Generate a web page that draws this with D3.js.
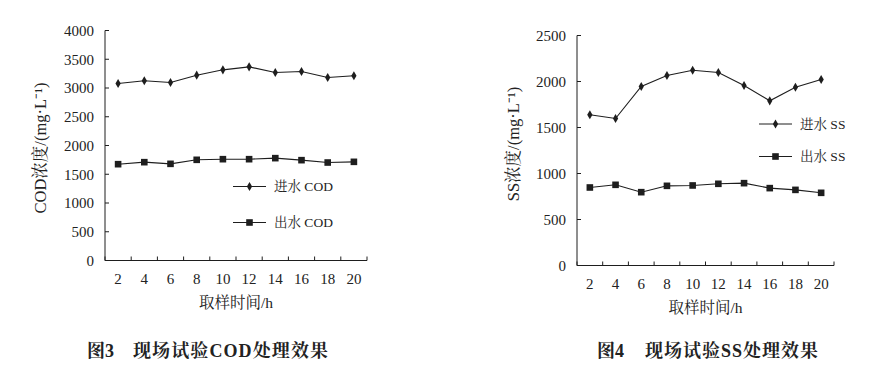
<!DOCTYPE html>
<html><head><meta charset="utf-8">
<script src="https://cdn.jsdelivr.net/npm/d3@7"></script>
<style>
body{margin:0;background:#fff;}
svg{display:block;}
</style></head>
<body>
<svg id="c" width="888" height="365"></svg>
<script>
const hours = ["2","4","6","8","10","12","14","16","18","20"];
const codIn  = [3078,3125,3096,3223,3316,3368,3270,3287,3183,3212];
const codOut = [1675,1710,1681,1751,1762,1762,1780,1745,1704,1716];
const ssIn   = [1638,1598,1946,2065,2123,2098,1957,1790,1938,2022];
const ssOut  = [848,877,797,866,870,888,895,841,822,790];
const codTicks = [0,500,1000,1500,2000,2500,3000,3500,4000];
const ssTicks  = [0,500,1000,1500,2000,2500];

const FONT = "'Times New Roman','Liberation Serif','Noto Serif CJK SC','Noto Sans CJK SC',serif";
const svg = d3.select("#c");
const ink = "#1e1e1e";
const txt = (g)=>g.append("text").attr("font-family",FONT).attr("fill","#222");

function chart(o){
  const g = svg.append("g");
  const x = d3.scaleBand().domain(hours).range([o.x0,o.x1]);
  const y = d3.scaleLinear().domain([0,o.ymax]).range([o.y0,o.y1]);
  g.append("line").attr("x1",o.x0).attr("x2",o.x0).attr("y1",y(o.ymax)).attr("y2",y(0)).attr("stroke",ink);
  g.append("line").attr("x1",o.x0).attr("x2",o.x1).attr("y1",y(0)).attr("y2",y(0)).attr("stroke",ink);
  o.ticks.forEach(t=>{
    g.append("line").attr("x1",o.x0).attr("x2",o.x0+4).attr("y1",y(t)).attr("y2",y(t)).attr("stroke",ink);
    txt(g).attr("x",o.x0-11).attr("y",y(t)).attr("dy","0.35em").attr("text-anchor","end")
      .attr("font-size",15).text(t);
  });
  const edges = hours.map(h=>x(h)).concat([x(hours[hours.length-1])+x.bandwidth()]);
  edges.forEach(e=>{
    g.append("line").attr("x1",e).attr("x2",e).attr("y1",y(0)).attr("y2",y(0)-4).attr("stroke",ink);
  });
  hours.forEach(h=>{
    txt(g).attr("x",x(h)+x.bandwidth()/2).attr("y",y(0)+23).attr("text-anchor","middle")
      .attr("font-size",15).text(h);
  });
  const cx = h=>x(h)+x.bandwidth()/2;
  const line = d3.line().x((d,i)=>cx(hours[i])).y(d=>y(d));
  g.append("path").datum(o.inn).attr("d",line).attr("fill","none").attr("stroke",ink).attr("stroke-width",1.1);
  g.append("path").datum(o.out).attr("d",line).attr("fill","none").attr("stroke",ink).attr("stroke-width",1.1);
  const diamond = d3.symbol().type(d3.symbolDiamond).size(24);
  g.selectAll(".di").data(o.inn).join("path").attr("transform",(d,i)=>`translate(${cx(hours[i])},${y(d)})`)
    .attr("d",diamond).attr("fill",ink);
  g.selectAll(".sq").data(o.out).join("rect").attr("x",(d,i)=>cx(hours[i])-3.3).attr("y",d=>y(d)-3.3)
    .attr("width",6.6).attr("height",6.6).attr("fill",ink);
  const L = o.leg;
  g.append("line").attr("x1",L.x).attr("x2",L.x+33).attr("y1",L.y1).attr("y2",L.y1).attr("stroke",ink);
  g.append("path").attr("transform",`translate(${L.x+16.5},${L.y1})`).attr("d",diamond).attr("fill",ink);
  txt(g).attr("x",L.x+41).attr("y",L.y1).attr("dy","0.35em").attr("font-size",13.5).text(o.n1);
  g.append("line").attr("x1",L.x).attr("x2",L.x+33).attr("y1",L.y2).attr("y2",L.y2).attr("stroke",ink);
  g.append("rect").attr("x",L.x+13.2).attr("y",L.y2-3.3).attr("width",6.6).attr("height",6.6).attr("fill",ink);
  txt(g).attr("x",L.x+41).attr("y",L.y2).attr("dy","0.35em").attr("font-size",13.5).text(o.n2);
  txt(g).attr("transform",`translate(${o.ylx},${o.yly}) rotate(-90)`).attr("text-anchor","middle")
    .attr("dy","0.35em").attr("font-size",16.5).text(o.ylab);
  txt(g).attr("x",(o.x0+o.x1)/2).attr("y",o.y0+47).attr("text-anchor","middle")
    .attr("font-size",15.5).text("取样时间/h");
  txt(g).attr("x",o.capx).attr("y",357).attr("font-size",18).attr("font-weight","bold").text(o.capNum);
  txt(g).attr("x",o.capx2).attr("y",357).attr("font-size",18).attr("font-weight","bold")
    .attr("textLength",o.capW).attr("lengthAdjust","spacing").text(o.cap);
}

chart({x0:105,x1:367,y0:260.5,y1:30.5,ymax:4000,ticks:codTicks,inn:codIn,out:codOut,
  leg:{x:233,y1:186.5,y2:222.5},n1:"进水 COD",n2:"出水 COD",
  ylab:"COD浓度/(mg·L⁻¹)",ylx:40,yly:148,capx:87,capx2:133,capW:195,capNum:"图3",cap:"现场试验COD处理效果"});
chart({x0:577,x1:834,y0:265.5,y1:35.5,ymax:2500,ticks:ssTicks,inn:ssIn,out:ssOut,
  leg:{x:759,y1:124,y2:156.5},n1:"进水 SS",n2:"出水 SS",
  ylab:"SS浓度/(mg·L⁻¹)",ylx:513,yly:144,capx:597,capx2:645,capW:173,capNum:"图4",cap:"现场试验SS处理效果"});
</script>
</body></html>
